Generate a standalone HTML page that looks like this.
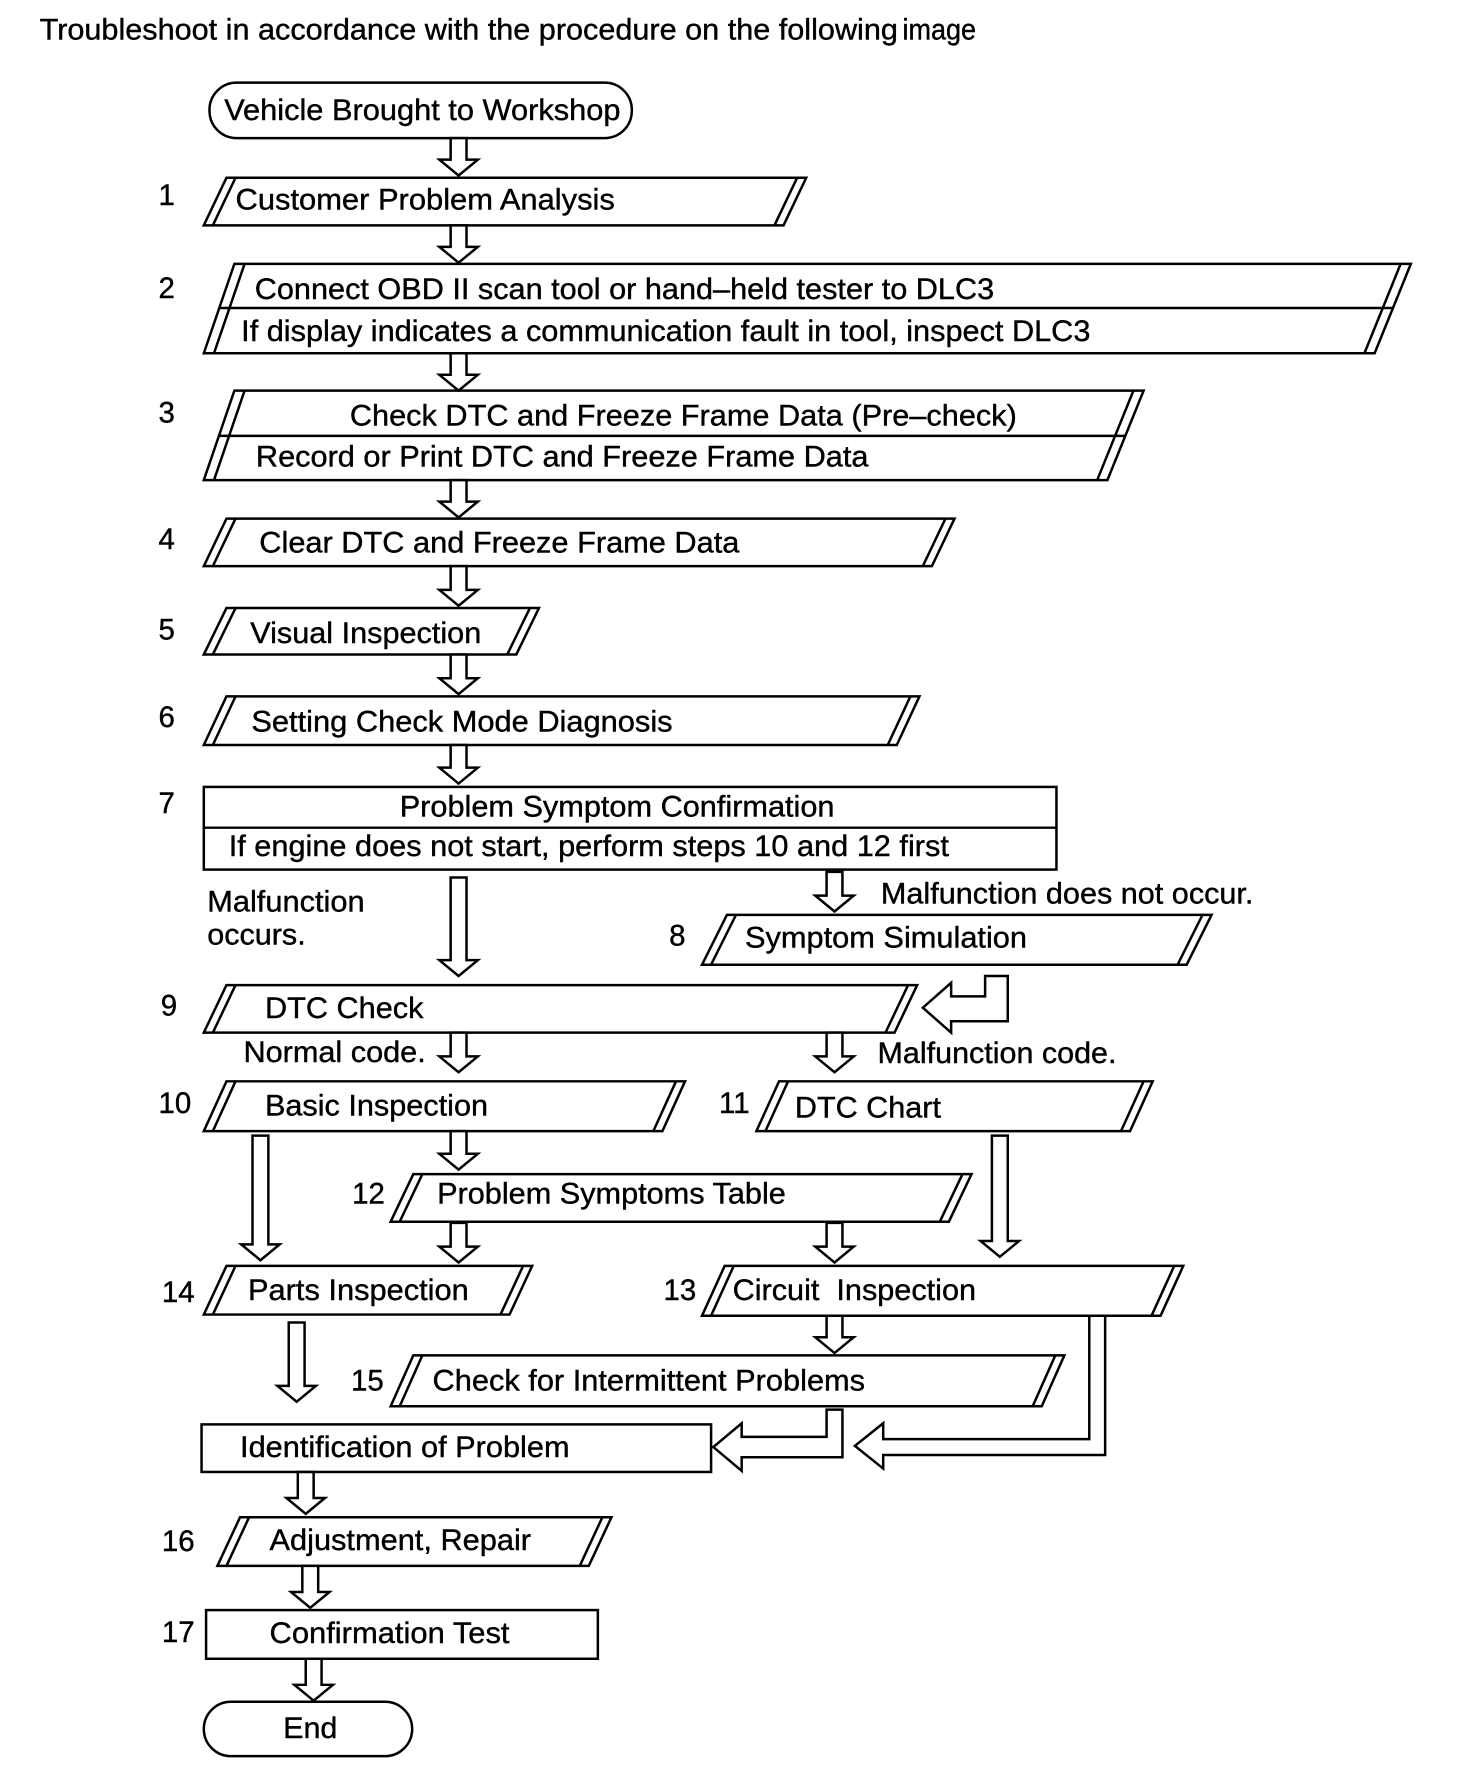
<!DOCTYPE html>
<html><head><meta charset="utf-8"><style>
html,body{margin:0;padding:0;background:#fff;}
svg{display:block;}
text{font-family:"Liberation Sans",Arial,sans-serif;font-size:26px;fill:#000;stroke:#000;stroke-width:0.35;}
</style></head><body>
<svg width="1472" height="1772" viewBox="0 0 1300 1565" preserveAspectRatio="none" xmlns="http://www.w3.org/2000/svg">
<g fill="#fff" stroke="#000" stroke-width="2.2">
<rect x="185" y="73" width="373" height="49" rx="24" ry="24"/>
<polygon points="180,199 200,157 712,157 692,199"/><line x1="188" y1="199" x2="208" y2="157"/><line x1="704" y1="157" x2="684" y2="199"/>
<polygon points="180,312 207,233 1246,233 1214,312"/><line x1="189" y1="312" x2="216" y2="233"/><line x1="1237" y1="233" x2="1205" y2="312"/><line x1="194" y1="272" x2="1230" y2="272"/>
<polygon points="180,424 207,345 1010,345 978,424"/><line x1="189" y1="424" x2="216" y2="345"/><line x1="1001" y1="345" x2="969" y2="424"/><line x1="194" y1="385" x2="994" y2="385"/>
<polygon points="180,500 200,458 843,458 823,500"/><line x1="188" y1="500" x2="208" y2="458"/><line x1="835" y1="458" x2="815" y2="500"/>
<polygon points="180,578 200,537 476,537 456,578"/><line x1="188" y1="578" x2="208" y2="537"/><line x1="468" y1="537" x2="448" y2="578"/>
<polygon points="180,658 200,615 812,615 792,658"/><line x1="188" y1="658" x2="208" y2="615"/><line x1="804" y1="615" x2="784" y2="658"/>
<rect x="180" y="695" width="753" height="73"/><line x1="180" y1="731" x2="933" y2="731"/>
<polygon points="620,852 642,808 1070,808 1048,852"/><line x1="628" y1="852" x2="650" y2="808"/><line x1="1062" y1="808" x2="1040" y2="852"/>
<polygon points="180,912 200,870 810,870 790,912"/><line x1="188" y1="912" x2="208" y2="870"/><line x1="802" y1="870" x2="782" y2="912"/>
<polygon points="180,999 200,955 605,955 585,999"/><line x1="188" y1="999" x2="208" y2="955"/><line x1="597" y1="955" x2="577" y2="999"/>
<polygon points="668,999 688,955 1018,955 998,999"/><line x1="676" y1="999" x2="696" y2="955"/><line x1="1010" y1="955" x2="990" y2="999"/>
<polygon points="345,1079 365,1037 858,1037 838,1079"/><line x1="353" y1="1079" x2="373" y2="1037"/><line x1="850" y1="1037" x2="830" y2="1079"/>
<polygon points="180,1161 200,1118 470,1118 450,1161"/><line x1="188" y1="1161" x2="208" y2="1118"/><line x1="462" y1="1118" x2="442" y2="1161"/>
<polygon points="620,1162 640,1118 1045,1118 1025,1162"/><line x1="628" y1="1162" x2="648" y2="1118"/><line x1="1037" y1="1118" x2="1017" y2="1162"/>
<polygon points="345,1242 365,1197 940,1197 920,1242"/><line x1="353" y1="1242" x2="373" y2="1197"/><line x1="932" y1="1197" x2="912" y2="1242"/>
<rect x="178" y="1258" width="450" height="42"/>
<polygon points="192,1383 212,1340 540,1340 520,1383"/><line x1="200" y1="1383" x2="220" y2="1340"/><line x1="532" y1="1340" x2="512" y2="1383"/>
<rect x="182" y="1422" width="346" height="43"/>
<rect x="180" y="1503" width="184" height="48" rx="24" ry="24"/>

<path d="M398,122 V141 H388 L405,155 L422,141 H412 V122 Z"/>
<path d="M398,199 V218 H388 L405,232 L422,218 H412 V199 Z"/>
<path d="M398,312 V331 H388 L405,345 L422,331 H412 V312 Z"/>
<path d="M398,424 V443 H388 L405,457 L422,443 H412 V424 Z"/>
<path d="M398,500 V521 H388 L405,535 L422,521 H412 V500 Z"/>
<path d="M398,578 V599 H388 L405,613 L422,599 H412 V578 Z"/>
<path d="M398,658 V678 H388 L405,692 L422,678 H412 V658 Z"/>
<path d="M398,775 V848 H388 L405,862 L422,848 H412 V775 Z"/>
<path d="M730,770 V791 H720 L737,805 L754,791 H744 V770 Z"/>
<path d="M398,912 V933 H388 L405,947 L422,933 H412 V912 Z"/>
<path d="M730,912 V933 H720 L737,947 L754,933 H744 V912 Z"/>
<path d="M223,1003 V1099 H213 L230,1113 L247,1099 H237 V1003 Z"/>
<path d="M398,999 V1019 H388 L405,1033 L422,1019 H412 V999 Z"/>
<path d="M876,1003 V1096 H866 L883,1110 L900,1096 H890 V1003 Z"/>
<path d="M398,1080 V1101 H388 L405,1115 L422,1101 H412 V1080 Z"/>
<path d="M730,1080 V1101 H720 L737,1115 L754,1101 H744 V1080 Z"/>
<path d="M255,1168 V1224 H245 L262,1238 L279,1224 H269 V1168 Z"/>
<path d="M730,1162 V1181 H720 L737,1195 L754,1181 H744 V1162 Z"/>
<path d="M263,1300 V1323 H253 L270,1337 L287,1323 H277 V1300 Z"/>
<path d="M267,1383 V1406 H257 L274,1420 L291,1406 H281 V1383 Z"/>
<path d="M270,1465 V1488 H260 L277,1502 L294,1488 H284 V1465 Z"/>
<path d="M870,862 H890 V902 H840 V912 L815,890 L840,868 V880 H870 Z"/>
<path d="M730,1245 H744 V1287 H655 V1299 L630,1278 L655,1257 V1269 H730 Z"/>
<path d="M962,1162 H976 V1285 H780 V1297 L755,1277 L780,1257 V1271 H962 Z"/>
</g>

<g>
<text x="35" y="35" textLength="758" lengthAdjust="spacingAndGlyphs">Troubleshoot in accordance with the procedure on the following</text>
<text x="797" y="35" font-size="20" textLength="65" lengthAdjust="spacingAndGlyphs">image</text>
<text x="198" y="106" textLength="350" lengthAdjust="spacingAndGlyphs">Vehicle Brought to Workshop</text>
<text x="140" y="181">1</text><text x="208" y="185" textLength="335" lengthAdjust="spacingAndGlyphs">Customer Problem Analysis</text>
<text x="140" y="263">2</text><text x="225" y="264" textLength="653" lengthAdjust="spacingAndGlyphs">Connect OBD II scan tool or hand–held tester to DLC3</text>
<text x="213" y="301" textLength="750" lengthAdjust="spacingAndGlyphs">If display indicates a communication fault in tool, inspect DLC3</text>
<text x="140" y="373">3</text><text x="309" y="376" textLength="589" lengthAdjust="spacingAndGlyphs">Check DTC and Freeze Frame Data (Pre–check)</text>
<text x="226" y="412" textLength="541" lengthAdjust="spacingAndGlyphs">Record or Print DTC and Freeze Frame Data</text>
<text x="140" y="485">4</text><text x="229" y="488" textLength="424" lengthAdjust="spacingAndGlyphs">Clear DTC and Freeze Frame Data</text>
<text x="140" y="565">5</text><text x="221" y="568" textLength="204" lengthAdjust="spacingAndGlyphs">Visual Inspection</text>
<text x="140" y="642">6</text><text x="222" y="646" textLength="372" lengthAdjust="spacingAndGlyphs">Setting Check Mode Diagnosis</text>
<text x="140" y="718">7</text><text x="353" y="721" textLength="384" lengthAdjust="spacingAndGlyphs">Problem Symptom Confirmation</text>
<text x="202" y="756" textLength="636" lengthAdjust="spacingAndGlyphs">If engine does not start, perform steps 10 and 12 first</text>
<text x="183" y="805" textLength="139" lengthAdjust="spacingAndGlyphs">Malfunction</text><text x="183" y="834" textLength="87" lengthAdjust="spacingAndGlyphs">occurs.</text>
<text x="778" y="798" textLength="329" lengthAdjust="spacingAndGlyphs">Malfunction does not occur.</text>
<text x="591" y="835">8</text><text x="658" y="837" textLength="249" lengthAdjust="spacingAndGlyphs">Symptom Simulation</text>
<text x="142" y="897">9</text><text x="234" y="899" textLength="140" lengthAdjust="spacingAndGlyphs">DTC Check</text>
<text x="215" y="938" textLength="161" lengthAdjust="spacingAndGlyphs">Normal code.</text>
<text x="775" y="939" textLength="211" lengthAdjust="spacingAndGlyphs">Malfunction code.</text>
<text x="140" y="983">10</text><text x="234" y="985" textLength="197" lengthAdjust="spacingAndGlyphs">Basic Inspection</text>
<text x="635" y="983">11</text><text x="702" y="987" textLength="129" lengthAdjust="spacingAndGlyphs">DTC Chart</text>
<text x="311" y="1063">12</text><text x="386" y="1063" textLength="308" lengthAdjust="spacingAndGlyphs">Problem Symptoms Table</text>
<text x="143" y="1150">14</text><text x="219" y="1148" textLength="195" lengthAdjust="spacingAndGlyphs">Parts Inspection</text>
<text x="586" y="1148">13</text><text x="647" y="1148" textLength="215" lengthAdjust="spacingAndGlyphs" xml:space="preserve">Circuit  Inspection</text>
<text x="310" y="1228">15</text><text x="382" y="1228" textLength="382" lengthAdjust="spacingAndGlyphs">Check for Intermittent Problems</text>
<text x="212" y="1287" textLength="291" lengthAdjust="spacingAndGlyphs">Identification of Problem</text>
<text x="143" y="1370">16</text><text x="238" y="1369" textLength="231" lengthAdjust="spacingAndGlyphs">Adjustment, Repair</text>
<text x="143" y="1450">17</text><text x="238" y="1451" textLength="212" lengthAdjust="spacingAndGlyphs">Confirmation Test</text>
<text x="250" y="1535" textLength="48" lengthAdjust="spacingAndGlyphs">End</text>
</g>
</svg>
</body></html>
